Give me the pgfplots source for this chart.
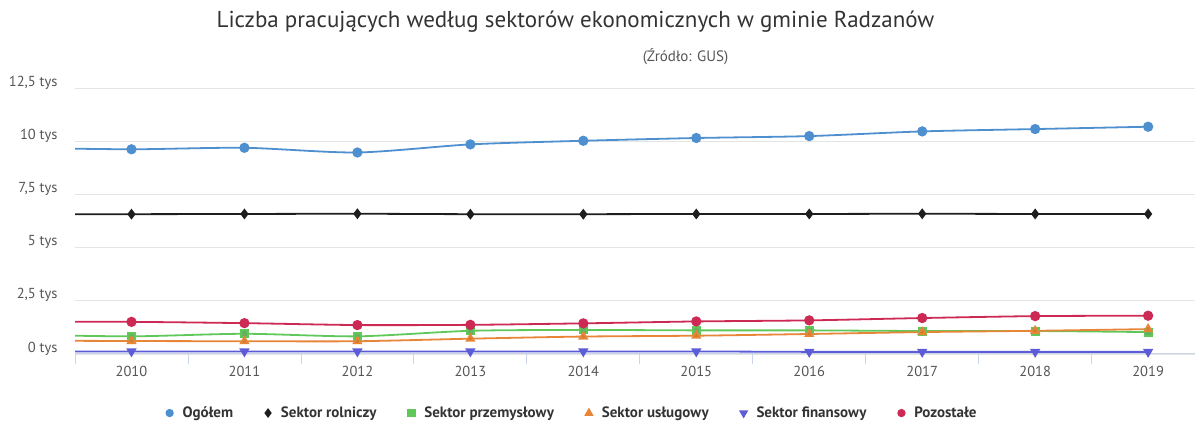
\documentclass[border=0pt]{standalone}
\usepackage{pgfplots}
\pgfplotsset{compat=1.18}
\usepackage{fontspec}
\setmainfont{PT Sans}
\definecolor{cOg}{RGB}{78,143,208}
\definecolor{cRol}{RGB}{30,30,30}
\definecolor{cPrz}{RGB}{96,200,90}
\definecolor{cUsl}{RGB}{232,134,56}
\definecolor{cFin}{RGB}{92,92,214}
\definecolor{cPoz}{RGB}{204,42,84}
\definecolor{cGrid}{RGB}{228,228,228}
\definecolor{cAx}{RGB}{204,214,235}
\definecolor{cTxt}{RGB}{85,85,85}
\begin{document}
\begin{tikzpicture}[x=1pt,y=1pt]
\path[use as bounding box] (0,0) rectangle (1195,423);
\node[font=\fontsize{23}{26}\selectfont, text=black!80] at (575.5,401) {Liczba pracujących według sektorów ekonomicznych w gminie Radzanów};
\node[font=\fontsize{15}{17}\selectfont, text=cTxt] at (685.5,366) {(Źródło: GUS)};
\begin{axis}[
  at={(75pt,69pt)}, anchor=south west,
  scale only axis, width=1120pt, height=266pt,
  xmin=2009.5, xmax=2019.415, ymin=0, ymax=12500,
  axis y line*=left, axis x line*=bottom,
  y axis line style={draw=none},
  x axis line style={cAx, line width=1pt, -},
  scaled y ticks=false,
  ytick={0,2500,5000,7500,10000,12500},
  yticklabels={0 tys,{2,5 tys},5 tys,{7,5 tys},10 tys,{12,5 tys}},
  y tick style={draw=none},
  ymajorgrids, grid style={cGrid, line width=0.8pt},
  xtick={2009.5,2010.5,2011.5,2012.5,2013.5,2014.5,2015.5,2016.5,2017.5,2018.5},
  xticklabels={},
  x tick style={cAx, line width=0.8pt},
  major tick length=10pt, tick align=outside,
  extra x ticks={2010,2011,2012,2013,2014,2015,2016,2017,2018,2019},
  extra x tick labels={2010,2011,2012,2013,2014,2015,2016,2017,2018,2019},
  extra x tick style={major tick length=0pt, grid=none},
  ticklabel style={font=\fontsize{14.5}{16}\selectfont, text=cTxt},
  /pgf/number format/assume math mode=true,
  y tick label style={anchor=east, xshift=-4pt, yshift=5.5pt},
  x tick label style={yshift=-9pt},
  every axis plot/.append style={line width=1.8pt, smooth, tension=0.45},
  legend style={at={(0.443,-0.222)}, anchor=center, draw=none, fill=none,
    font=\bfseries\fontsize{15}{17}\selectfont, text=black!80, legend columns=6,
    /tikz/every even column/.append style={column sep=27pt},
    /tikz/every odd column/.append style={column sep=0pt}},
  legend cell align=left,
  legend image code/.code={\path (-5pt,0pt) (10pt,0pt); \path[#1] plot coordinates {(0pt,0pt)};},
]
\addplot[cOg, mark=*, mark size=4.2pt, mark options={fill=cOg}, forget plot] coordinates {
(2009,9690) (2010,9620) (2011,9690) (2012,9470) (2013,9850) (2014,10020) (2015,10150) (2016,10240) (2017,10460) (2018,10570) (2019,10680)};
\addplot[cRol, mark=diamond*, mark size=4pt, mark options={fill=cRol}, forget plot] coordinates {
(2009,6560) (2010,6570) (2011,6580) (2012,6590) (2013,6570) (2014,6570) (2015,6580) (2016,6580) (2017,6590) (2018,6580) (2019,6580)};
\addplot[cPrz, mark=square*, mark size=3.6pt, mark options={fill=cPrz!85!black!90}, forget plot] coordinates {
(2009,910) (2010,830) (2011,950) (2012,830) (2013,1090) (2014,1130) (2015,1110) (2016,1110) (2017,1080) (2018,1080) (2019,1030)};
\addplot[cUsl, mark=triangle*, mark size=4.2pt, mark options={fill=cUsl!90!black}, forget plot] coordinates {
(2009,630) (2010,610) (2011,600) (2012,600) (2013,720) (2014,820) (2015,860) (2016,940) (2017,1030) (2018,1090) (2019,1170)};
\addplot[cFin, mark=triangle*, mark size=4.2pt, mark options={fill=cFin, rotate=180}, forget plot] coordinates {
(2009,120) (2010,120) (2011,120) (2012,120) (2013,120) (2014,120) (2015,120) (2016,100) (2017,100) (2018,100) (2019,100)};
\addplot[cPoz, mark=*, mark size=4.2pt, mark options={fill=cPoz}, forget plot] coordinates {
(2009,1520) (2010,1510) (2011,1450) (2012,1360) (2013,1370) (2014,1440) (2015,1530) (2016,1580) (2017,1690) (2018,1780) (2019,1800)};
\addlegendimage{only marks, mark=*, mark size=3.2pt, cOg, fill=cOg}
\addlegendentry{Ogółem}
\addlegendimage{only marks, mark=diamond*, mark size=3.4pt, cRol, fill=cRol}
\addlegendentry{Sektor rolniczy}
\addlegendimage{only marks, mark=square*, mark size=3.2pt, cPrz, fill=cPrz}
\addlegendentry{Sektor przemysłowy}
\addlegendimage{only marks, mark=triangle*, mark size=3.6pt, cUsl, fill=cUsl}
\addlegendentry{Sektor usługowy}
\addlegendimage{only marks, mark=triangle*, mark size=3.6pt, cFin, fill=cFin, mark options={rotate=180}}
\addlegendentry{Sektor finansowy}
\addlegendimage{only marks, mark=*, mark size=3.2pt, cPoz, fill=cPoz}
\addlegendentry{Pozostałe}
\end{axis}
\end{tikzpicture}
\end{document}
